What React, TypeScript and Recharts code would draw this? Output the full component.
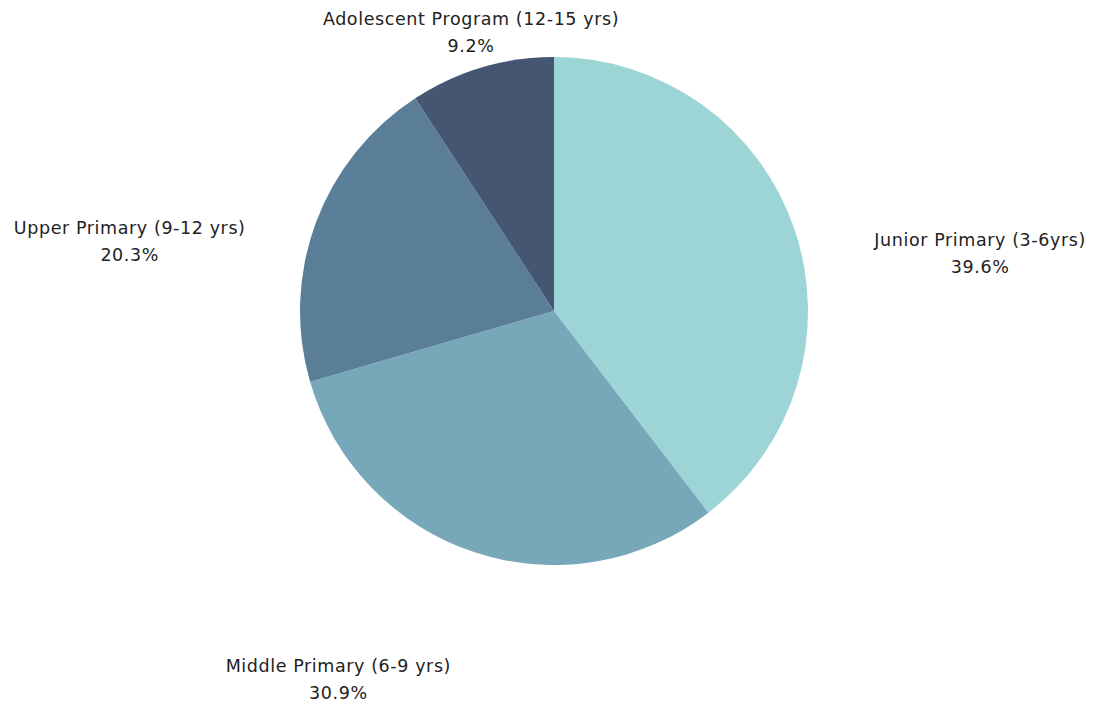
import React from 'react';
import { PieChart, Pie, Cell } from 'recharts';

const categories = [
  'Junior Primary (3-6yrs)',
  'Middle Primary (6-9 yrs)',
  'Upper Primary (9-12 yrs)',
  'Adolescent Program (12-15 yrs)',
];
const shares = [39.6, 30.9, 20.3, 9.2];
const colors = ['#9dd5d7', '#76a8b9', '#5a7e97', '#455673'];

const data = categories.map((name, i) => ({ name, value: shares[i] }));

const W = 1093;
const H = 702;
const CX = 554;
const CY = 311;
const R = 254;
const RAD = Math.PI / 180;

// labels sit on a ring outside the pie, nudged toward the horizontal,
// pulled back along the slice ray if they would run off the top
const renderLabel = (props: any) => {
  const { midAngle, index } = props;
  const labelR = 430;
  const nudge = 11;
  // midAngle is recharts style: 0 = right, counter-clockwise positive
  const toHoriz = Math.cos(midAngle * RAD) >= 0 ? -1 : 1;
  const side = Math.sin(midAngle * RAD) >= 0 ? 1 : -1;
  let a = midAngle + toHoriz * side * nudge;
  let x = CX + labelR * Math.cos(a * RAD);
  let y = CY - labelR * Math.sin(a * RAD);
  const top = 32;
  const bottom = 679;
  if (y < top) {
    a = midAngle;
    const r = (CY - top) / Math.sin(a * RAD);
    x = CX + r * Math.cos(a * RAD);
    y = top;
  }
  if (y > bottom) {
    y = bottom;
    x -= 6;
  }
  return (
    <text
      x={x}
      y={y}
      textAnchor="middle"
      fill="#222"
      fontSize={17.5}
      letterSpacing={0.6}
      fontFamily="'DejaVu Sans', sans-serif"
    >
      <tspan x={x} dy={-7}>{categories[index]}</tspan>
      <tspan x={x} dy={27}>{shares[index].toFixed(1)}%</tspan>
    </text>
  );
};

export default function App() {
  return (
    <div style={{ position: 'absolute', left: 0, top: 0, width: W, height: H, background: '#fff' }}>
      <PieChart width={W} height={H} margin={{ top: 0, right: 0, bottom: 0, left: 0 }}>
        <Pie
          data={data}
          dataKey="value"
          nameKey="name"
          cx={CX}
          cy={CY}
          outerRadius={R}
          startAngle={90}
          endAngle={-270}
          stroke="none"
          label={renderLabel}
          labelLine={false}
          isAnimationActive={false}
        >
          {data.map((d, i) => (
            <Cell key={d.name} fill={colors[i]} />
          ))}
        </Pie>
      </PieChart>
    </div>
  );
}
